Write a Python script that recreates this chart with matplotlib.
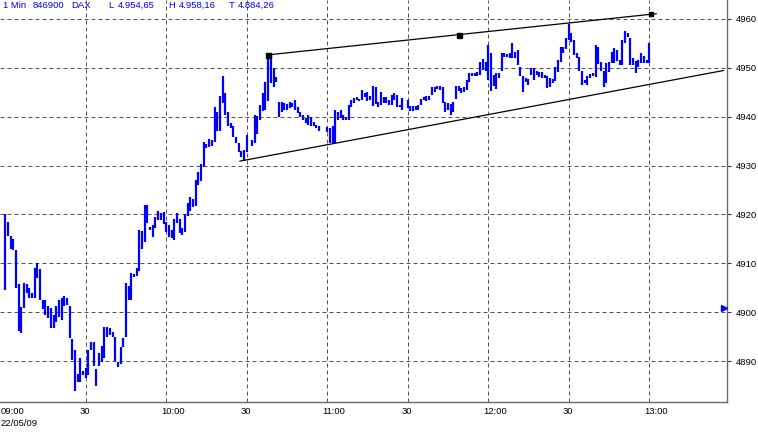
import matplotlib.pyplot as plt
from matplotlib.transforms import blended_transform_factory, offset_copy

# DAX 1-min bars, 22/05/09 - minutes after 09:00
minutes = [*range(0, 31), *range(31, 61), *range(61, 91), *range(92, 118),
           *range(120, 149), *range(150, 181), *range(181, 210), *range(210, 241)]

highs = [
    # 09:00 - 09:30
    4920.0, 4918.5, 4915.7, 4915.0, 4912.7, 4905.7, 4901.0, 4906.0, 4905.7, 4905.0,
    4904.0, 4909.0, 4910.0, 4908.9, 4902.6, 4902.5, 4901.4, 4900.8, 4899.4, 4901.4,
    4902.5, 4903.0, 4903.3, 4903.0, 4901.4, 4894.5, 4892.4, 4887.5, 4890.6, 4888.0, 4888.7,
    # 09:31 - 10:00
    4892.4, 4894.0, 4894.0, 4888.5, 4891.8, 4893.2, 4897.1, 4897.0, 4896.8, 4895.9,
    4894.9, 4889.9, 4892.9, 4894.7, 4906.0, 4905.3, 4908.0, 4907.8, 4909.0, 4916.8,
    4916.6, 4922.0, 4921.9, 4917.4, 4917.8, 4919.4, 4920.7, 4920.3, 4920.5, 4918.4,
    # 10:01 - 10:30
    4917.8, 4916.8, 4919.0, 4920.2, 4919.0, 4917.2, 4920.0, 4922.3, 4923.5, 4923.1,
    4927.0, 4928.6, 4930.3, 4934.8, 4934.3, 4935.4, 4935.2, 4942.0, 4941.0, 4944.2,
    4948.3, 4944.8, 4941.0, 4938.7, 4938.0, 4935.8, 4934.6, 4933.0, 4933.1, 4936.2,
    # 10:32 - 10:57
    4935.2, 4940.3, 4940.1, 4942.4, 4944.8, 4947.0, 4952.6, 4952.6, 4950.0, 4948.0,
    4943.0, 4943.0, 4942.8, 4942.6, 4943.0, 4942.8, 4943.4, 4941.9, 4940.9, 4940.3,
    4939.7, 4940.3, 4939.9, 4938.9, 4938.2, 4938.0,
    # 11:00 - 11:28
    4937.8, 4937.6, 4938.0, 4941.3, 4940.9, 4941.3, 4940.3, 4940.0, 4942.4, 4943.4,
    4943.8, 4944.0, 4943.6, 4945.4, 4944.8, 4945.0, 4944.2, 4946.2, 4946.0, 4943.0,
    4945.0, 4944.0, 4944.0, 4943.4, 4944.4, 4944.8, 4944.4, 4942.4, 4943.8,
    # 11:30 - 12:00
    4943.4, 4942.1, 4942.1, 4942.1, 4942.4, 4943.6, 4944.0, 4944.2, 4944.2, 4946.0,
    4946.0, 4946.2, 4946.2, 4946.0, 4943.0, 4942.8, 4942.6, 4943.0, 4946.2, 4946.2,
    4945.8, 4946.0, 4947.5, 4948.9, 4948.9, 4948.9, 4949.1, 4951.1, 4951.7, 4951.1, 4954.6,
    # 12:01 - 12:29
    4953.0, 4948.5, 4948.9, 4948.9, 4953.0, 4953.0, 4952.8, 4953.0, 4955.0, 4953.2,
    4953.6, 4950.1, 4948.3, 4947.9, 4947.6, 4949.9, 4949.9, 4949.3, 4949.1, 4949.1,
    4948.5, 4948.3, 4947.9, 4947.6, 4950.1, 4951.5, 4954.2, 4954.2, 4956.0,
    # 12:30 - 13:00
    4958.9, 4957.1, 4955.6, 4953.0, 4952.1, 4949.3, 4947.5, 4948.3, 4948.7, 4948.9,
    4954.6, 4954.2, 4951.1, 4949.3, 4950.9, 4951.1, 4953.2, 4954.0, 4953.6, 4951.5,
    4955.6, 4957.5, 4957.1, 4956.0, 4951.9, 4951.3, 4951.5, 4953.0, 4952.4, 4951.5, 4955.0,
]

lows = [
    4904.5, 4915.7, 4913.0, 4912.7, 4905.0, 4896.3, 4895.7, 4900.8, 4904.0, 4903.0,
    4903.0, 4903.0, 4907.0, 4902.5, 4900.6, 4899.4, 4898.8, 4896.9, 4896.9, 4898.0,
    4899.0, 4898.4, 4901.4, 4901.6, 4894.7, 4890.2, 4884.0, 4885.7, 4885.7, 4887.2, 4886.5,
    4887.3, 4892.4, 4889.1, 4885.0, 4889.0, 4889.8, 4890.6, 4894.9, 4895.3, 4894.9,
    4890.0, 4888.8, 4889.4, 4892.9, 4894.9, 4902.6, 4902.6, 4907.2, 4907.4, 4908.4,
    4913.0, 4914.3, 4918.2, 4916.8, 4915.4, 4917.2, 4918.8, 4918.8, 4918.0, 4916.4,
    4915.4, 4915.2, 4914.7, 4918.2, 4916.2, 4915.8, 4916.4, 4919.7, 4920.7, 4921.5,
    4921.7, 4926.1, 4926.8, 4929.7, 4933.5, 4933.8, 4934.0, 4934.8, 4937.0, 4937.0,
    4942.8, 4940.3, 4938.0, 4937.6, 4935.8, 4934.6, 4932.7, 4931.7, 4930.9, 4932.7,
    4934.0, 4934.6, 4936.4, 4939.3, 4941.1, 4941.3, 4943.2, 4946.9, 4946.0, 4947.0,
    4939.9, 4941.0, 4941.3, 4941.3, 4941.7, 4942.0, 4941.3, 4940.7, 4939.9, 4939.3,
    4938.7, 4938.3, 4938.0, 4938.0, 4937.6, 4937.0,
    4936.8, 4934.6, 4934.4, 4934.6, 4939.3, 4939.7, 4939.3, 4939.3, 4939.3, 4942.0,
    4942.8, 4943.4, 4943.2, 4943.4, 4944.0, 4943.2, 4943.4, 4942.2, 4942.6, 4942.0,
    4942.4, 4942.8, 4942.8, 4942.4, 4942.4, 4943.4, 4942.0, 4942.0, 4941.3,
    4941.7, 4941.1, 4941.1, 4941.3, 4941.3, 4942.4, 4943.4, 4943.2, 4943.4, 4944.4,
    4945.0, 4945.6, 4945.4, 4942.8, 4940.9, 4941.3, 4940.3, 4940.9, 4943.6, 4945.2,
    4944.8, 4945.0, 4945.4, 4947.0, 4948.3, 4948.3, 4948.3, 4948.5, 4949.5, 4949.3, 4947.5,
    4945.2, 4946.2, 4945.6, 4947.9, 4949.3, 4952.1, 4952.1, 4951.9, 4952.0, 4952.0,
    4950.5, 4948.3, 4945.0, 4947.1, 4946.4, 4948.5, 4947.5, 4948.5, 4948.1, 4947.9,
    4947.9, 4945.8, 4946.0, 4946.8, 4947.3, 4949.1, 4951.1, 4953.0, 4953.8,
    4955.6, 4955.2, 4952.6, 4951.9, 4949.3, 4946.4, 4946.8, 4946.4, 4947.9, 4948.3,
    4948.0, 4950.7, 4949.3, 4946.0, 4946.8, 4949.1, 4951.0, 4951.0, 4951.3, 4950.5,
    4950.5, 4955.0, 4956.3, 4950.5, 4950.5, 4948.9, 4950.1, 4950.9, 4950.9, 4950.9, 4950.9,
]

# trend lines drawn on the chart
upper_t = [98, 242.6]
upper_p = [4952.6, 4961.0]
lower_t = [87.5, 267.7]
lower_p = [4930.9, 4949.4]
upper_marks_t = [98, 169, 240.5]
upper_marks_p = [4952.6, 4956.7, 4960.9]

last_price_t = 267.8
last_price_p = 4900.8

y_ticks = [4890, 4900, 4910, 4920, 4930, 4940, 4950, 4960]
x_ticks = [0, 30, 60, 90, 120, 150, 180, 210, 240]
x_labels = ['09:00', '30', '10:00', '30', '11:00', '30', '12:00', '30', '13:00']
date_label = '22/05/09'

header = ['1 Min', '846900', 'DAX', 'L', '4.954,65', 'H', '4.958,16', 'T', '4.884,26']
header_x = [3, 33, 71, 108, 118, 168, 179, 229, 238]

W, H = 758, 432
fnt = 'Liberation Sans'
blue = '#0000ff'
grid_col = '#555555'
fs = 6.8

fig = plt.figure(figsize=(W / 100, H / 100), dpi=100)
ax = fig.add_axes([0, 30 / H, 727.3 / W, 402 / H])
ax.set_xlim(-1.94, 269.1)
ax.set_ylim(4881.7, 4963.8)

for s in ['left', 'top']:
    ax.spines[s].set_visible(False)
for s in ['bottom', 'right']:
    ax.spines[s].set_color('#6a6a6a')
    ax.spines[s].set_linewidth(1.0)

# grid
for yv in y_ticks:
    ax.axhline(yv, color=grid_col, lw=0.72, ls=(0, (4, 3)), zorder=1)
for xv in x_ticks[1:]:
    ax.axvline(xv, color=grid_col, lw=0.72, ls=(0, (4, 3)), zorder=1)

# bars
ax.vlines(minutes, lows, highs, colors=blue, lw=1.6, zorder=3)

# trend lines
ax.plot(upper_t, upper_p, color='black', lw=0.9, zorder=4)
ax.plot(lower_t, lower_p, color='black', lw=0.9, zorder=4)
ax.plot(upper_marks_t[:2], upper_marks_p[:2], 's', color='black', ms=3.6, zorder=5)
ax.plot(upper_marks_t[2:], upper_marks_p[2:], 's', color='black', ms=2.2, zorder=5)
ax.plot([last_price_t], [last_price_p], '>', color=blue, ms=4.5, zorder=5, clip_on=False)

# y axis on right
ax.yaxis.tick_right()
ax.set_yticks(y_ticks)
ax.set_yticklabels([str(v) for v in y_ticks], fontsize=fs, family=fnt)
ax.tick_params(axis='y', length=3, width=0.8, color='#333333', pad=3)
ax.set_xticks([])

# x labels: first two chars centred on the tick
tr = blended_transform_factory(ax.transData, ax.transAxes)
for xv, lab in zip(x_ticks, x_labels):
    if ':' in lab:
        t = offset_copy(tr, fig=fig, x=-5, y=-5, units='dots')
        ax.text(xv, 0, lab, transform=t, ha='left', va='top', fontsize=fs, family=fnt)
    else:
        t = offset_copy(tr, fig=fig, x=-1, y=-5, units='dots')
        ax.text(xv, 0, lab, transform=t, ha='center', va='top', fontsize=fs, family=fnt)
fig.text(0, 1 - 419 / H, date_label, ha='left', va='top', fontsize=fs, family=fnt)

# header line
for txt, px in zip(header, header_x):
    fig.text(px / W, 1 - 1 / H, txt, ha='left', va='top', fontsize=fs, family=fnt, color=blue)

fig.savefig('out.png', dpi=100)
